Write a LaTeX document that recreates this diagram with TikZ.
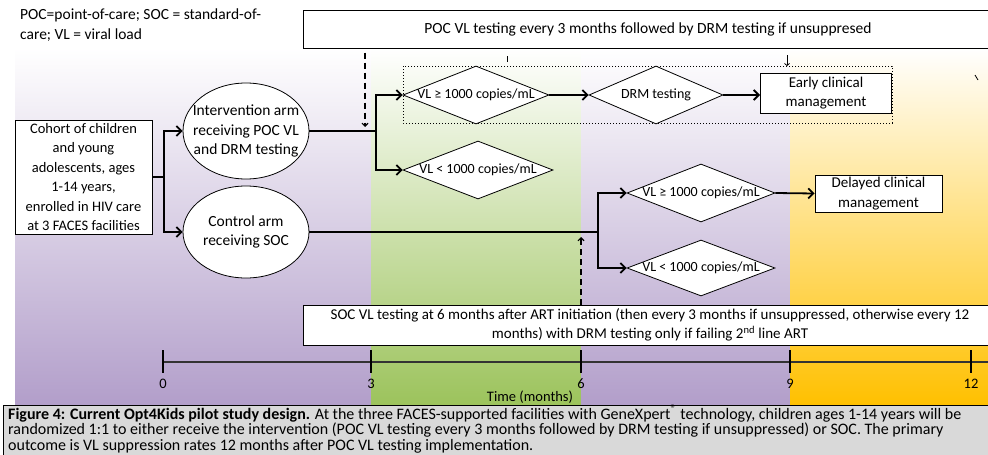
\documentclass[tikz,border=0pt]{standalone}
\usepackage{fontspec}
\setmainfont{Carlito}
\usetikzlibrary{shapes.geometric,arrows.meta}
\definecolor{purp}{HTML}{B29ECA}
\definecolor{purpmid}{HTML}{E2D9EA}
\definecolor{grn}{HTML}{9CC35C}
\definecolor{grnmid}{HTML}{DCEAC8}
\definecolor{yel}{HTML}{FFC000}
\definecolor{yelmid}{HTML}{FFECB0}
\definecolor{capgray}{HTML}{D9D9D9}
\begin{document}
\begin{tikzpicture}[x=1pt,y=-1pt,
  every node/.style={font=\fontsize{15}{19.5}\selectfont},
  conn/.style={line width=1.8pt},
  arr/.style={line width=1.8pt,-{Straight Barb[length=5pt,width=10pt]}},
  dasharr/.style={line width=1.1pt,dash pattern=on 6pt off 4pt,-{Straight Barb[length=3pt,width=6pt]}},
  box/.style={draw,line width=1pt,fill=white,align=center,inner sep=2pt},
  dia/.style={draw,diamond,line width=0.8pt,fill=white,inner sep=0pt,label={[align=center,font=\fontsize{14}{19}\selectfont]center:#1}},
  ell/.style={draw,ellipse,line width=0.8pt,fill=white,inner sep=0pt,label={[align=center,font=\fontsize{15.5}{19.5}\selectfont]center:#1}},
  capline/.style={anchor=west, inner sep=0pt, font=\fontsize{16}{18}\selectfont},
]
\path[use as bounding box] (0,0) rectangle (988,455);
\clip (0,0) rectangle (988,455);
\fill[white] (0,0) rectangle (988,455);

% background bands
\shade[top color=white, middle color=purpmid, bottom color=purp] (15,48) rectangle (371,405);
\shade[top color=white, middle color=grnmid, bottom color=grn] (371,48) rectangle (581,405);
\shade[top color=white, middle color=purpmid, bottom color=purp] (581,48) rectangle (790,405);
\shade[top color=white, middle color=yelmid, bottom color=yel] (790,48) rectangle (988,405);

% legend
\node[anchor=north west, align=left, inner sep=0pt, font=\fontsize{15.5}{20}\selectfont] (legend) at (20,9)
  {POC=point-of-care; SOC = standard-of-\\care; VL = viral load};

% top box
\node[box, minimum width=690, minimum height=38, font=\fontsize{15.5}{19.5}\selectfont] (top) at (648,29)
  {POC VL testing every 3 months followed by DRM testing if unsuppresed};

% dotted group box
\draw[line width=1pt, dotted] (403,66) rectangle (892,123);

% nodes
\node[draw, line width=1pt, fill=white, align=center, inner sep=2pt, minimum width=137, minimum height=114, font=\fontsize{14.5}{19.5}\selectfont] (cohort) at (83.5,177)
  {Cohort of children\\and young\\adolescents, ages\\1-14 years,\\enrolled in HIV care\\at 3 FACES facilities};
\node[ell={Intervention arm\\receiving POC VL\\and DRM testing}, minimum width=126, minimum height=96] (int) at (246,131) {};
\node[ell={Control arm\\receiving SOC}, minimum width=126, minimum height=92] (ctl) at (246,232) {};

\node[dia={VL ≥ 1000 copies/mL}, minimum width=146, minimum height=58] (d1) at (476,95) {};
\node[dia={DRM testing}, minimum width=134, minimum height=58] (drm) at (656,95) {};
\node[box, minimum width=131, minimum height=40] (early) at (826,93) {Early clinical\\management};
\node[dia={VL < 1000 copies/mL}, minimum width=150, minimum height=58] (d3) at (478,170) {};

\node[dia={VL ≥ 1000 copies/mL}, minimum width=148, minimum height=58] (d4) at (701,193) {};
\node[dia={VL < 1000 copies/mL}, minimum width=148, minimum height=56] (d5) at (701,268) {};
\node[box, minimum width=127, minimum height=37] (delayed) at (878.5,193.5) {Delayed clinical\\management};

% SOC box
\node[box, minimum width=694, minimum height=40] (soc) at (650,325)
  {SOC VL testing at 6 months after ART initiation (then every 3 months if unsuppressed, otherwise every 12\\months) with DRM testing only if failing 2\textsuperscript{nd} line ART};

% connectors
\coordinate (s1) at (164,177);
\coordinate (s2) at (376,131);
\coordinate (s3) at (598,232);
\draw[conn] (cohort.east |- s1) -- (s1);
\draw[arr] (s1) |- (int.west);
\draw[arr] (s1) |- (ctl.west);
\draw[conn] (int.east) -- (s2);
\draw[arr] (s2) |- (d1.west);
\draw[arr] (s2) |- (d3.west);
\draw[arr] (d1.east) -- (drm.west);
\draw[arr] (drm.east) -- (drm.east -| early.west);
\draw[conn] (ctl.east) -- (s3);
\draw[arr] (s3) |- (d4.west);
\draw[arr] (s3) |- (d5.west);
\draw[arr] (d4.east) -- (delayed.west);

% dashed arrows
\coordinate (da1) at (365,127);
\coordinate (da2) at (581,237);
\draw[dasharr] (top.south -| da1) ++(0,4) -- (da1);
\draw[dasharr] (soc.north -| da2) -- (da2);
\coordinate (st1) at (507,62);
\coordinate (st2) at (787,66);
\draw[line width=0.8pt] (st1) -- ++(0,-6);
\draw[line width=0.8pt,-{Straight Barb[length=2pt,width=5pt]}] (787,55) -- (st2);
\draw[line width=0.8pt] (975,75) -- (978,80);

% time axis
\coordinate (t0) at (163,362);
\coordinate (tend) at (990,362);
\draw[line width=1.3pt, black!80] (t0) -- (tend);
\foreach \xx/\lab in {163/0,371/3,581/6,790/9,971/12}{
  \draw[line width=1.2pt] (\xx,350) -- (\xx,373);
  \node[font=\fontsize{14.5}{16}\selectfont] (tl\lab) at (\xx,384) {\lab};
}
\node[font=\fontsize{14.5}{16}\selectfont] (tlabel) at (530,397) {Time (months)};

% caption
\node[draw, line width=1pt, fill=capgray, anchor=north west, minimum width=990, minimum height=60, inner sep=0pt] (cap) at (3,405) {};
\node[capline] (c1) at (8,413.5) {\textbf{Figure 4: Current Opt4Kids pilot study design.} At the three FACES-supported facilities with GeneXpert\textsuperscript{®}\ technology, children ages 1-14 years will be};
\node[capline] (c2) at (8,430.5) {randomized 1:1 to either receive the intervention (POC VL testing every 3 months followed by DRM testing if unsuppressed) or SOC. The primary};
\node[capline] (c3) at (8,446.5) {outcome is VL suppression rates 12 months after POC VL testing implementation.};
\end{tikzpicture}
\end{document}
